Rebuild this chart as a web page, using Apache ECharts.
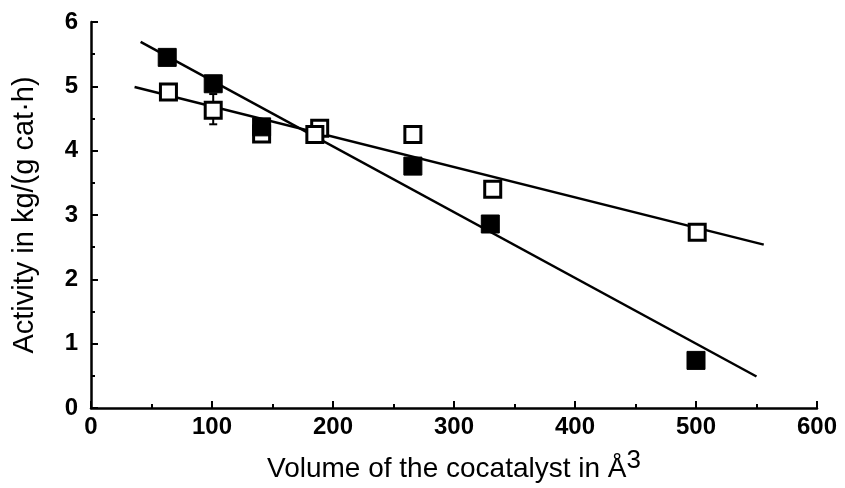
<!DOCTYPE html>
<html>
<head>
<meta charset="utf-8">
<script src="https://cdn.jsdelivr.net/npm/echarts@6/dist/echarts.min.js"></script>
<style>html,body{margin:0;padding:0;background:#fff;}#c{width:845px;height:488px;}</style>
</head>
<body>
<div id="c"></div>
<script>
// Data
var filledPoints = [[63, 5.45], [101, 5.04], [141, 4.37], [266, 3.76], [330, 2.86], [500, 0.74]];
var openPoints = [[64, 4.91], [101, 4.63], [141, 4.26], [189, 4.35], [185, 4.25], [266, 4.25], [332, 3.40], [501, 2.73]];
var errorBars = [[101, 4.41, 4.88]];
var fitFilled = [[41, 5.69], [550, 0.49]];
var fitOpen = [[36, 4.99], [556, 2.54]];
var xTicks = [0, 100, 200, 300, 400, 500, 600];
var yTicks = [0, 1, 2, 3, 4, 5, 6];

var chart = echarts.init(document.getElementById('c'));
var fontFam = '"Liberation Sans", Arial, Helvetica, sans-serif';
chart.setOption({
  backgroundColor: '#fff',
  animation: false,
  grid: { left: 91, right: 28, top: 22, bottom: 77 },
  xAxis: {
    type: 'value', min: xTicks[0], max: xTicks[xTicks.length - 1], interval: 100,
    name: 'Volume of the cocatalyst in Å{s|3}',
    nameLocation: 'middle', nameGap: 40,
    nameTextStyle: { fontFamily: fontFam, fontSize: 28, color: '#000',
      rich: { s: { fontFamily: fontFam, fontSize: 26, verticalAlign: 'top', padding: [0,0,16,0], color:'#000' } } },
    axisLine: { lineStyle: { color: '#000', width: 2.5 } },
    axisTick: { inside: true, length: 7, lineStyle: { color: '#000', width: 2 } },
    minorTick: { show: true, splitNumber: 2, length: 4, lineStyle: { color: '#000', width: 2 } },
    axisLabel: { fontFamily: fontFam, fontSize: 24, fontWeight: 'bold', color: '#000', margin: 7 },
    splitLine: { show: false }
  },
  yAxis: {
    type: 'value', min: yTicks[0], max: yTicks[yTicks.length - 1], interval: 1,
    name: 'Activity in kg/(g cat·h)',
    nameLocation: 'middle', nameGap: 52,
    nameTextStyle: { fontFamily: fontFam, fontSize: 29, color: '#000' },
    axisLine: { lineStyle: { color: '#000', width: 2.5 } },
    axisTick: { inside: true, length: 7, lineStyle: { color: '#000', width: 2 } },
    minorTick: { show: true, splitNumber: 2, length: 4, lineStyle: { color: '#000', width: 2 } },
    axisLabel: { fontFamily: fontFam, fontSize: 24, fontWeight: 'bold', color: '#000', margin: 13 },
    splitLine: { show: false }
  },
  series: [
    { type: 'line', data: fitFilled, symbol: 'none', lineStyle: { color: '#000', width: 2.5 }, z: 2 },
    { type: 'line', data: fitOpen, symbol: 'none', lineStyle: { color: '#000', width: 2.5 }, z: 2 },
    {
      type: 'custom', z: 3,
      data: errorBars,
      renderItem: function (params, api) {
        var x = api.value(0);
        var lo = api.coord([x, api.value(1)]);
        var hi = api.coord([x, api.value(2)]);
        return { type: 'group', children: [
          { type: 'line', shape: { x1: lo[0], y1: lo[1], x2: hi[0], y2: hi[1] }, style: { stroke: '#000', lineWidth: 2 } },
          { type: 'line', shape: { x1: lo[0] - 4, y1: lo[1], x2: lo[0] + 4, y2: lo[1] }, style: { stroke: '#000', lineWidth: 2 } },
          { type: 'line', shape: { x1: hi[0] - 4, y1: hi[1], x2: hi[0] + 4, y2: hi[1] }, style: { stroke: '#000', lineWidth: 2 } }
        ]};
      }
    },
    { type: 'scatter', data: openPoints, symbol: 'rect', symbolSize: 16,
      itemStyle: { color: '#fff', borderColor: '#000', borderWidth: 3, opacity: 1 }, z: 4 },
    { type: 'scatter', data: filledPoints, symbol: 'rect', symbolSize: 18,
      itemStyle: { color: '#000', borderColor: '#000', borderWidth: 1, opacity: 1 }, z: 5 }
  ]
});
</script>
</body>
</html>
